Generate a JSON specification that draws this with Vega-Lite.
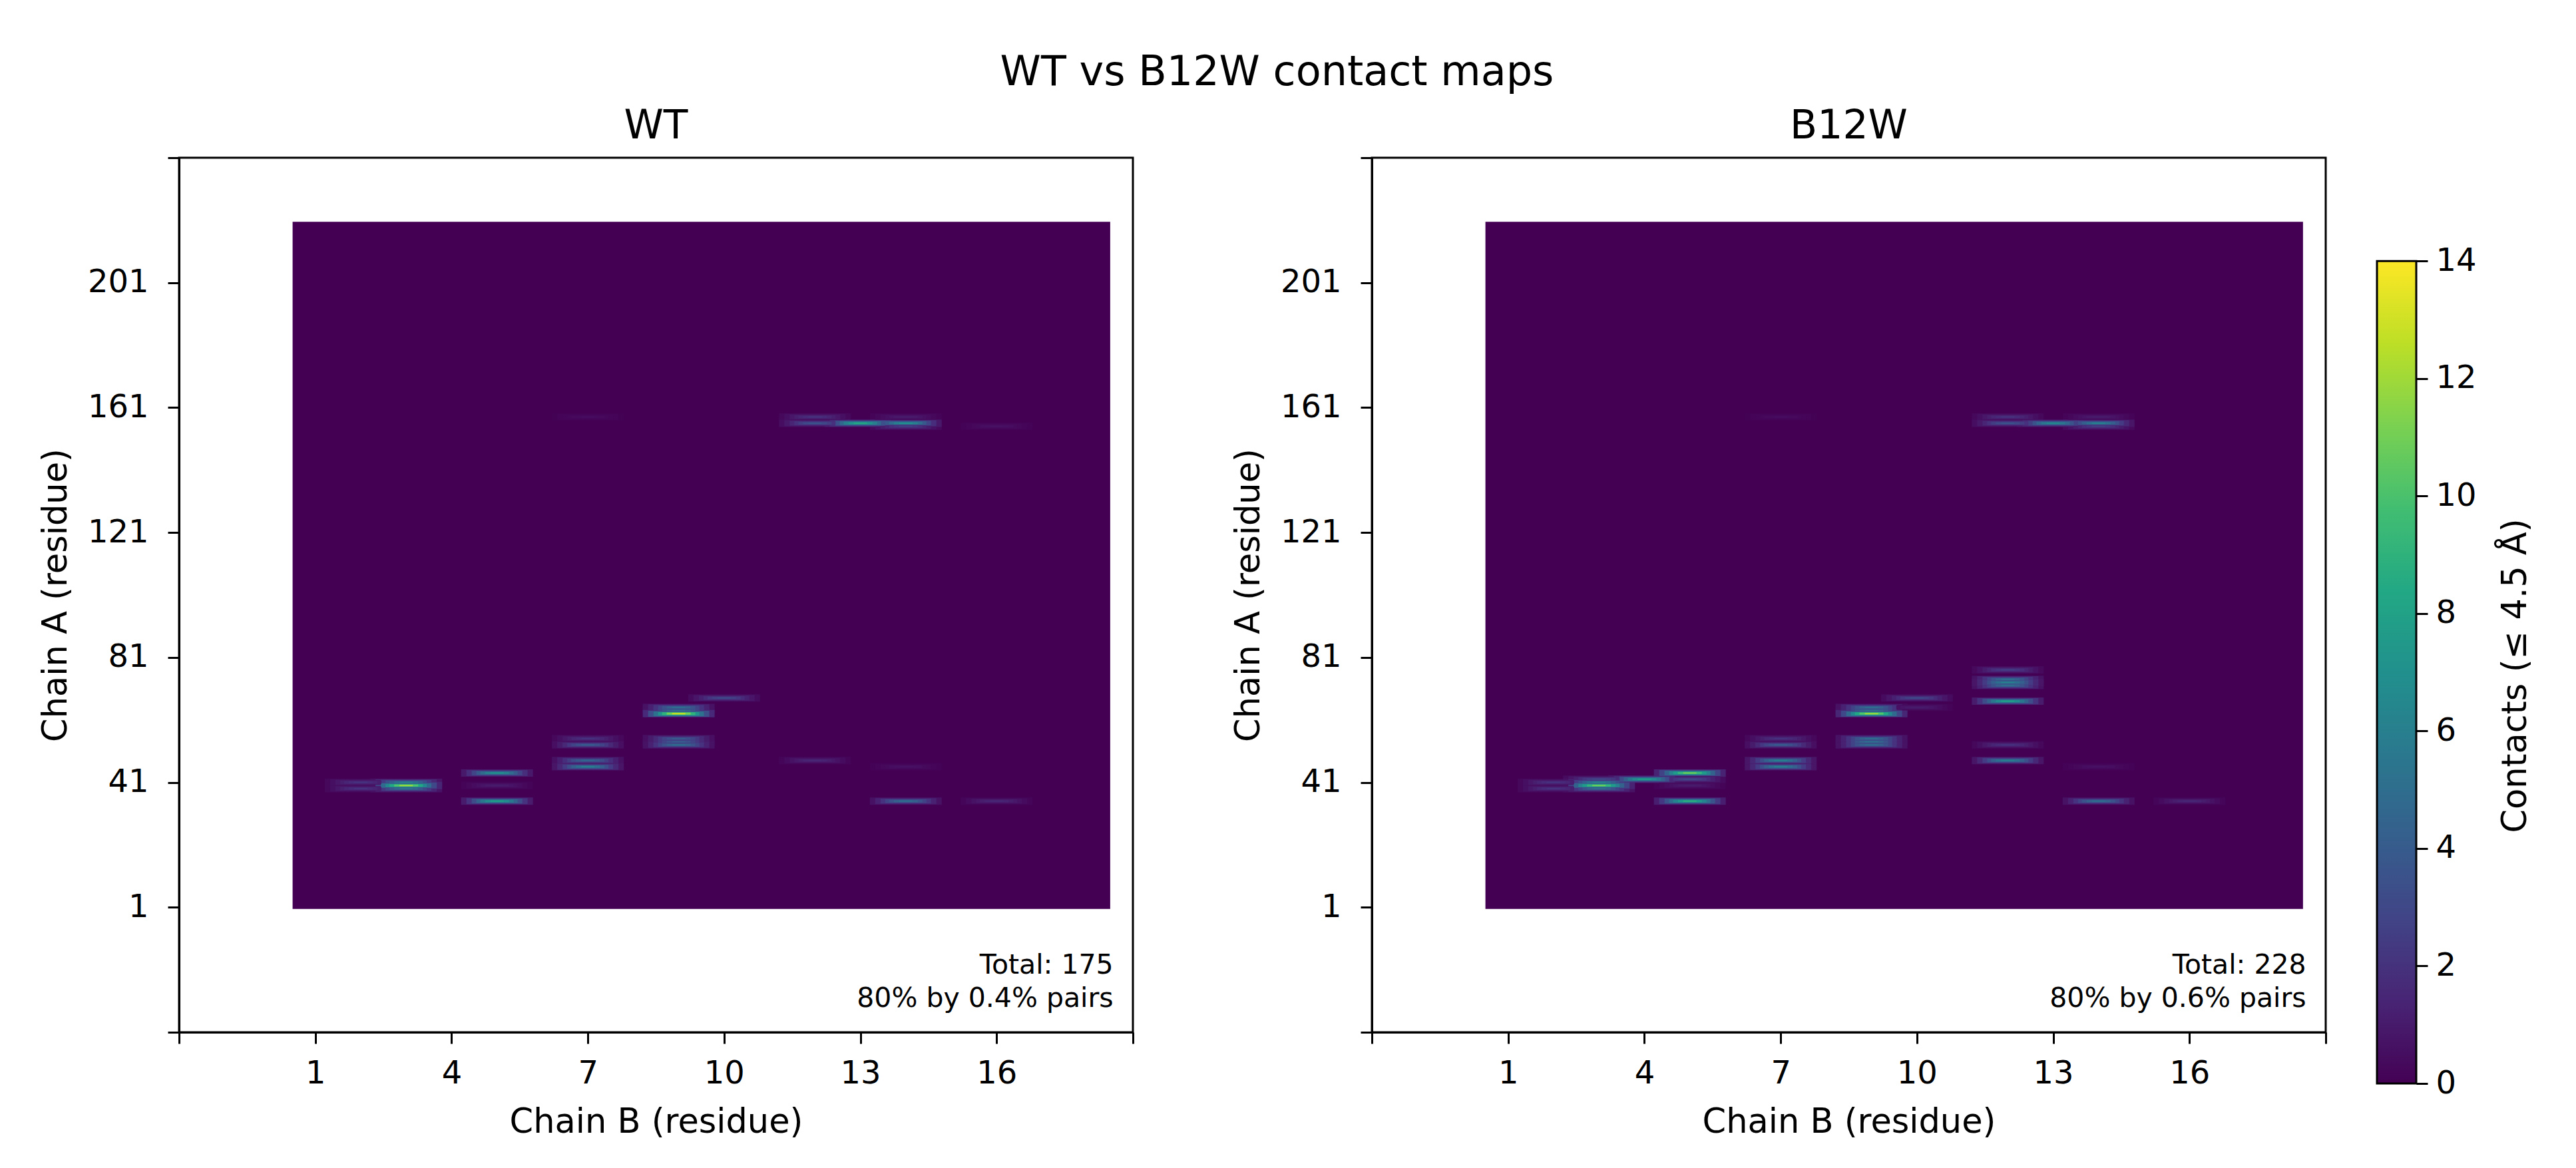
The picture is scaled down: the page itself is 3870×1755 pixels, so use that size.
{
  "$schema": "https://vega.github.io/schema/vega-lite/v6.json",
  "padding": {"left": 56, "top": 77, "right": 60, "bottom": 0},
  "background": "white",
  "title": {"text": "WT vs B12W contact maps", "anchor": "middle", "fontSize": 62, "fontWeight": "normal", "font": "DejaVu Sans", "color": "black", "offset": 18, "dx": -12},
  "config": {
    "font": "DejaVu Sans",
    "view": {"stroke": "black", "strokeWidth": 3},
    "axis": {
      "grid": false, "domainColor": "black", "domainWidth": 3, "tickColor": "black", "tickWidth": 3, "tickSize": 17,
      "labelFont": "DejaVu Sans", "labelFontSize": 48, "labelColor": "black", "labelPadding": 17, "labelFlush": false, "labelOverlap": false, "labelBound": false,
      "titleFont": "DejaVu Sans", "titleFontSize": 51, "titleColor": "black", "titleFontWeight": "normal"
    },
    "title": {"fontWeight": "normal"}
  },
  "datasets": {
    "extent": [{"b0": 0.5, "b1": 18.5, "a0": 0.5, "a1": 220.5, "contacts": 0}],
    "colorbar": [{"lo": 0, "hi": 14}],
    "wt_notes": [
      {"chain_b": 18.57, "chain_a": -17.7, "note": "Total: 175"},
      {"chain_b": 18.57, "chain_a": -28.4, "note": "80% by 0.4% pairs"}
    ],
    "b12w_notes": [
      {"chain_b": 18.57, "chain_a": -17.7, "note": "Total: 228"},
      {"chain_b": 18.57, "chain_a": -28.4, "note": "80% by 0.6% pairs"}
    ],
    "wt": [
      {"chain_b": 7, "chain_a": 158, "contacts": 0.4},
      {"chain_b": 14, "chain_a": 46, "contacts": 0.6},
      {"chain_b": 16, "chain_a": 155, "contacts": 0.6},
      {"chain_b": 5, "chain_a": 40, "contacts": 1},
      {"chain_b": 14, "chain_a": 158, "contacts": 1},
      {"chain_b": 12, "chain_a": 48, "contacts": 1.5},
      {"chain_b": 16, "chain_a": 35, "contacts": 1.5},
      {"chain_b": 2, "chain_a": 41, "contacts": 2},
      {"chain_b": 2, "chain_a": 39, "contacts": 2},
      {"chain_b": 7, "chain_a": 55, "contacts": 2},
      {"chain_b": 12, "chain_a": 158, "contacts": 2},
      {"chain_b": 14, "chain_a": 155, "contacts": 2.5},
      {"chain_b": 10, "chain_a": 68, "contacts": 3},
      {"chain_b": 12, "chain_a": 156, "contacts": 3.5},
      {"chain_b": 7, "chain_a": 53, "contacts": 4},
      {"chain_b": 9, "chain_a": 54, "contacts": 4},
      {"chain_b": 9, "chain_a": 55, "contacts": 4},
      {"chain_b": 7, "chain_a": 48, "contacts": 4.5},
      {"chain_b": 9, "chain_a": 53, "contacts": 5},
      {"chain_b": 9, "chain_a": 64, "contacts": 5},
      {"chain_b": 9, "chain_a": 65, "contacts": 5},
      {"chain_b": 14, "chain_a": 35, "contacts": 5},
      {"chain_b": 3, "chain_a": 39, "contacts": 5.5},
      {"chain_b": 3, "chain_a": 41, "contacts": 6},
      {"chain_b": 7, "chain_a": 46, "contacts": 6},
      {"chain_b": 5, "chain_a": 44, "contacts": 7},
      {"chain_b": 14, "chain_a": 156, "contacts": 7},
      {"chain_b": 5, "chain_a": 35, "contacts": 8},
      {"chain_b": 13, "chain_a": 156, "contacts": 8.5},
      {"chain_b": 3, "chain_a": 40, "contacts": 12},
      {"chain_b": 9, "chain_a": 63, "contacts": 13}
    ],
    "b12w": [
      {"chain_b": 7, "chain_a": 158, "contacts": 0.4},
      {"chain_b": 14, "chain_a": 46, "contacts": 0.6},
      {"chain_b": 5, "chain_a": 40, "contacts": 1},
      {"chain_b": 10, "chain_a": 65, "contacts": 1},
      {"chain_b": 14, "chain_a": 158, "contacts": 1},
      {"chain_b": 16, "chain_a": 35, "contacts": 1.5},
      {"chain_b": 2, "chain_a": 41, "contacts": 2},
      {"chain_b": 2, "chain_a": 39, "contacts": 2},
      {"chain_b": 7, "chain_a": 55, "contacts": 2},
      {"chain_b": 12, "chain_a": 53, "contacts": 2},
      {"chain_b": 12, "chain_a": 158, "contacts": 2},
      {"chain_b": 12, "chain_a": 77, "contacts": 2.5},
      {"chain_b": 14, "chain_a": 155, "contacts": 2.5},
      {"chain_b": 3, "chain_a": 42, "contacts": 3},
      {"chain_b": 5, "chain_a": 42, "contacts": 3},
      {"chain_b": 10, "chain_a": 68, "contacts": 3},
      {"chain_b": 12, "chain_a": 156, "contacts": 3.5},
      {"chain_b": 7, "chain_a": 53, "contacts": 4},
      {"chain_b": 9, "chain_a": 53, "contacts": 5},
      {"chain_b": 9, "chain_a": 54, "contacts": 5},
      {"chain_b": 9, "chain_a": 55, "contacts": 5},
      {"chain_b": 9, "chain_a": 64, "contacts": 5},
      {"chain_b": 9, "chain_a": 65, "contacts": 5},
      {"chain_b": 12, "chain_a": 72, "contacts": 5},
      {"chain_b": 12, "chain_a": 74, "contacts": 5},
      {"chain_b": 14, "chain_a": 35, "contacts": 5},
      {"chain_b": 3, "chain_a": 39, "contacts": 5},
      {"chain_b": 3, "chain_a": 41, "contacts": 6},
      {"chain_b": 7, "chain_a": 46, "contacts": 6},
      {"chain_b": 7, "chain_a": 48, "contacts": 6},
      {"chain_b": 12, "chain_a": 48, "contacts": 6},
      {"chain_b": 12, "chain_a": 73, "contacts": 6},
      {"chain_b": 14, "chain_a": 156, "contacts": 6},
      {"chain_b": 13, "chain_a": 156, "contacts": 6.5},
      {"chain_b": 4, "chain_a": 42, "contacts": 8},
      {"chain_b": 12, "chain_a": 67, "contacts": 8},
      {"chain_b": 5, "chain_a": 35, "contacts": 9},
      {"chain_b": 3, "chain_a": 40, "contacts": 11},
      {"chain_b": 5, "chain_a": 44, "contacts": 11},
      {"chain_b": 9, "chain_a": 63, "contacts": 12}
    ]
  },
  "hconcat": [
    {
      "title": {"text": "WT", "fontSize": 60, "font": "DejaVu Sans", "color": "black", "offset": -8},
      "width": 1433,
      "height": 1314,
      "encoding": {
        "x": {"field": "chain_b", "type": "quantitative", "title": "Chain B (residue)", "scale": {"domain": [-2, 19], "nice": false, "zero": false},
          "axis": {"values": [-2, 1, 4, 7, 10, 13, 16, 19], "labelExpr": "datum.value < 0 || datum.value > 18 ? '' : datum.label", "labelPadding": 21, "titlePadding": 24}},
        "y": {"field": "chain_a", "type": "quantitative", "title": "Chain A (residue)", "scale": {"domain": [-39, 241], "nice": false, "zero": false},
          "axis": {"values": [-39, 1, 41, 81, 121, 161, 201, 241], "labelExpr": "datum.value < 0 || datum.value > 220 ? '' : datum.label", "labelPadding": 29, "titlePadding": 21}}
      },
      "resolve": {"scale": {"color": "independent"}},
      "layer": [
        {"data": {"name": "extent"}, "mark": {"type": "rect", "color": "#440154"}, "encoding": {"x": {"field": "b0", "type": "quantitative"}, "x2": {"field": "b1"}, "y": {"field": "a0", "type": "quantitative"}, "y2": {"field": "a1"}}},
        {"data": {"name": "wt"}, "mark": {"type": "point", "filled": true, "opacity": 1, "strokeWidth": 0, "shape": "M-1,-0.102L1,-0.102L1,0.102L-1,0.102Z", "size": 11664}, "encoding": {"color": {"field": "contacts", "type": "quantitative", "legend": null, "scale": {"scheme": "viridis", "domain": [0, 116.67]}}}},
        {"data": {"name": "wt"}, "mark": {"type": "point", "filled": true, "opacity": 1, "strokeWidth": 0, "shape": "M-1,-0.1L1,-0.1L1,0.1L-1,0.1Z", "size": 8464}, "encoding": {"color": {"field": "contacts", "type": "quantitative", "legend": null, "scale": {"scheme": "viridis", "domain": [0, 56]}}}},
        {"data": {"name": "wt"}, "mark": {"type": "point", "filled": true, "opacity": 1, "strokeWidth": 0, "shape": "M-1,-0.095L1,-0.095L1,0.095L-1,0.095Z", "size": 5776}, "encoding": {"color": {"field": "contacts", "type": "quantitative", "legend": null, "scale": {"scheme": "viridis", "domain": [0, 35]}}}},
        {"data": {"name": "wt"}, "mark": {"type": "point", "filled": true, "opacity": 1, "strokeWidth": 0, "shape": "M-1,-0.09L1,-0.09L1,0.09L-1,0.09Z", "size": 3844}, "encoding": {"color": {"field": "contacts", "type": "quantitative", "legend": null, "scale": {"scheme": "viridis", "domain": [0, 25.45]}}}},
        {"data": {"name": "wt"}, "mark": {"type": "point", "filled": true, "opacity": 1, "strokeWidth": 0, "shape": "M-1,-0.084L1,-0.084L1,0.084L-1,0.084Z", "size": 2500}, "encoding": {"color": {"field": "contacts", "type": "quantitative", "legend": null, "scale": {"scheme": "viridis", "domain": [0, 20]}}}},
        {"data": {"name": "wt"}, "mark": {"type": "point", "filled": true, "opacity": 1, "strokeWidth": 0, "shape": "M-1,-0.083L1,-0.083L1,0.083L-1,0.083Z", "size": 1296}, "encoding": {"color": {"field": "contacts", "type": "quantitative", "legend": null, "scale": {"scheme": "viridis", "domain": [0, 16.47]}}}},
        {"data": {"name": "wt"}, "mark": {"type": "point", "filled": true, "opacity": 1, "strokeWidth": 0, "shape": "M-1,-0.1L1,-0.1L1,0.1L-1,0.1Z", "size": 400}, "encoding": {"color": {"field": "contacts", "type": "quantitative", "legend": null, "scale": {"scheme": "viridis", "domain": [0, 14]}}}},
        {"data": {"name": "wt_notes"}, "mark": {"type": "text", "align": "right", "baseline": "middle", "fontSize": 41, "fill": "black", "opacity": 1}, "encoding": {"text": {"field": "note", "type": "nominal"}}}
      ]
    },
    {
      "spacing": 72,
      "hconcat": [
        {
          "title": {"text": "B12W", "fontSize": 60, "font": "DejaVu Sans", "color": "black", "offset": -8},
          "width": 1433,
          "height": 1314,
          "encoding": {
            "x": {"field": "chain_b", "type": "quantitative", "title": "Chain B (residue)", "scale": {"domain": [-2, 19], "nice": false, "zero": false},
              "axis": {"values": [-2, 1, 4, 7, 10, 13, 16, 19], "labelExpr": "datum.value < 0 || datum.value > 18 ? '' : datum.label", "labelPadding": 21, "titlePadding": 24}},
            "y": {"field": "chain_a", "type": "quantitative", "title": "Chain A (residue)", "scale": {"domain": [-39, 241], "nice": false, "zero": false},
              "axis": {"values": [-39, 1, 41, 81, 121, 161, 201, 241], "labelExpr": "datum.value < 0 || datum.value > 220 ? '' : datum.label", "labelPadding": 29, "titlePadding": 21}}
          },
          "resolve": {"scale": {"color": "independent"}},
          "layer": [
            {"data": {"name": "extent"}, "mark": {"type": "rect", "color": "#440154"}, "encoding": {"x": {"field": "b0", "type": "quantitative"}, "x2": {"field": "b1"}, "y": {"field": "a0", "type": "quantitative"}, "y2": {"field": "a1"}}},
            {"data": {"name": "b12w"}, "mark": {"type": "point", "filled": true, "opacity": 1, "strokeWidth": 0, "shape": "M-1,-0.102L1,-0.102L1,0.102L-1,0.102Z", "size": 11664}, "encoding": {"color": {"field": "contacts", "type": "quantitative", "legend": null, "scale": {"scheme": "viridis", "domain": [0, 116.67]}}}},
            {"data": {"name": "b12w"}, "mark": {"type": "point", "filled": true, "opacity": 1, "strokeWidth": 0, "shape": "M-1,-0.1L1,-0.1L1,0.1L-1,0.1Z", "size": 8464}, "encoding": {"color": {"field": "contacts", "type": "quantitative", "legend": null, "scale": {"scheme": "viridis", "domain": [0, 56]}}}},
            {"data": {"name": "b12w"}, "mark": {"type": "point", "filled": true, "opacity": 1, "strokeWidth": 0, "shape": "M-1,-0.095L1,-0.095L1,0.095L-1,0.095Z", "size": 5776}, "encoding": {"color": {"field": "contacts", "type": "quantitative", "legend": null, "scale": {"scheme": "viridis", "domain": [0, 35]}}}},
            {"data": {"name": "b12w"}, "mark": {"type": "point", "filled": true, "opacity": 1, "strokeWidth": 0, "shape": "M-1,-0.09L1,-0.09L1,0.09L-1,0.09Z", "size": 3844}, "encoding": {"color": {"field": "contacts", "type": "quantitative", "legend": null, "scale": {"scheme": "viridis", "domain": [0, 25.45]}}}},
            {"data": {"name": "b12w"}, "mark": {"type": "point", "filled": true, "opacity": 1, "strokeWidth": 0, "shape": "M-1,-0.084L1,-0.084L1,0.084L-1,0.084Z", "size": 2500}, "encoding": {"color": {"field": "contacts", "type": "quantitative", "legend": null, "scale": {"scheme": "viridis", "domain": [0, 20]}}}},
            {"data": {"name": "b12w"}, "mark": {"type": "point", "filled": true, "opacity": 1, "strokeWidth": 0, "shape": "M-1,-0.083L1,-0.083L1,0.083L-1,0.083Z", "size": 1296}, "encoding": {"color": {"field": "contacts", "type": "quantitative", "legend": null, "scale": {"scheme": "viridis", "domain": [0, 16.47]}}}},
            {"data": {"name": "b12w"}, "mark": {"type": "point", "filled": true, "opacity": 1, "strokeWidth": 0, "shape": "M-1,-0.1L1,-0.1L1,0.1L-1,0.1Z", "size": 400}, "encoding": {"color": {"field": "contacts", "type": "quantitative", "legend": null, "scale": {"scheme": "viridis", "domain": [0, 14]}}}},
            {"data": {"name": "b12w_notes"}, "mark": {"type": "text", "align": "right", "baseline": "middle", "fontSize": 41, "fill": "black", "opacity": 1}, "encoding": {"text": {"field": "note", "type": "nominal"}}}
          ]
        },
        {
          "data": {"name": "colorbar"},
          "width": 59,
          "height": 1391,
          "view": {"stroke": null},
          "mark": {"type": "rect", "stroke": "black", "strokeWidth": 3, "fill": {"gradient": "linear", "x1": 0, "y1": 1, "x2": 0, "y2": 0, "stops": [
            {"offset": 0, "color": "#440154"}, {"offset": 0.1, "color": "#482475"}, {"offset": 0.2, "color": "#414487"}, {"offset": 0.3, "color": "#355f8d"}, {"offset": 0.4, "color": "#2a788e"}, {"offset": 0.5, "color": "#21908d"}, {"offset": 0.6, "color": "#22a884"}, {"offset": 0.7, "color": "#42be71"}, {"offset": 0.8, "color": "#7ad151"}, {"offset": 0.9, "color": "#bddf26"}, {"offset": 1, "color": "#fde725"}
          ]}},
          "encoding": {
            "y": {"field": "lo", "type": "quantitative", "title": "Contacts (≤ 4.5 Å)", "scale": {"domain": [0, 15.76], "nice": false, "zero": false},
              "axis": {"orient": "right", "values": [0, 2, 4, 6, 8, 10, 12, 14], "domain": false, "labelPadding": 12, "titleAngle": 270, "titlePadding": 85, "titleY": 778}},
            "y2": {"field": "hi"}
          }
        }
      ]
    }
  ],
  "spacing": 143
}
